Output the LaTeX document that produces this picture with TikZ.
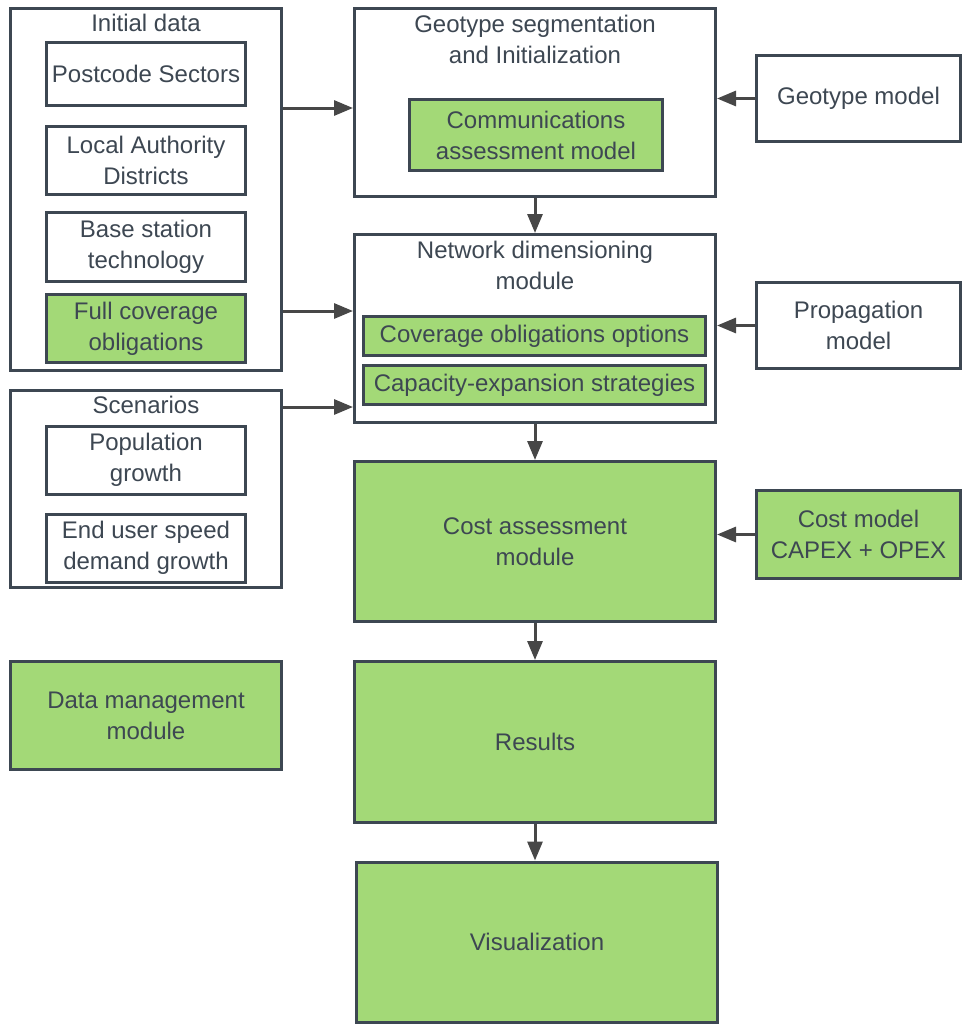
\documentclass[tikz,border=0pt]{standalone}
\usepackage{fontspec}
\setmainfont{Liberation Sans}
\usetikzlibrary{arrows.meta}

\definecolor{boxline}{HTML}{3D4752}
\definecolor{boxgreen}{HTML}{A3D977}
\definecolor{arrowgray}{HTML}{474747}

\tikzset{
	box/.style={draw=boxline, line width=3pt, fill=white, text=boxline, align=center, inner sep=0pt,
		font=\fontsize{24}{31}\selectfont},
	greenbox/.style={box, fill=boxgreen},
	title/.style={text=boxline, align=center, inner sep=0pt, font=\fontsize{24}{31}\selectfont},
	flow/.style={draw=arrowgray, line width=3pt, -{Triangle[length=19pt,width=15pt]}},
}

\begin{document}
\begin{tikzpicture}[x=1pt, y=-1pt]
	\useasboundingbox (0, 0) rectangle (966, 1036);

	% initial data
	\node[box, minimum width=271, minimum height=362] (init) at (146, 189.5) {};
	\node[title] (initt) at (146, 23) {Initial data};
	\node[box, minimum width=199, minimum height=63] (postcode) at (146, 74) {Postcode Sectors};
	\node[box, minimum width=199, minimum height=68] (lad) at (146, 160) {Local Authority\\Districts};
	\node[box, minimum width=199, minimum height=69] (bst) at (146, 247) {Base station\\technology};
	\node[greenbox, minimum width=199, minimum height=68] (fco) at (146, 328.5) {Full coverage\\obligations};

	% scenarios
	\node[box, minimum width=271, minimum height=197] (scen) at (146, 489) {};
	\node[title] (scent) at (146, 405) {Scenarios};
	\node[box, minimum width=199, minimum height=68] (popg) at (146, 460) {Population\\growth};
	\node[box, minimum width=199, minimum height=68] (speed) at (146, 548) {End user speed\\demand growth};

	% data management
	\node[greenbox, minimum width=271, minimum height=108] (dmm) at (146, 715.5) {Data management\\module};

	% geotype segmentation
	\node[box, minimum width=361, minimum height=188] (geo) at (535, 102.5) {};
	\node[title] (geot) at (535, 39) {Geotype segmentation\\and Initialization};
	\node[greenbox, minimum width=253, minimum height=71] (cam) at (536, 135) {Communications\\assessment model};

	% network dimensioning
	\node[box, minimum width=361, minimum height=188] (net) at (535, 328.5) {};
	\node[title] (nett) at (535, 265) {Network dimensioning\\module};
	\node[greenbox, minimum width=342, minimum height=39] (coo) at (534.5, 336) {Coverage obligations options};
	\node[greenbox, minimum width=342, minimum height=39] (ces) at (534.5, 385) {Capacity-expansion strategies};

	% cost, results, visualization
	\node[greenbox, minimum width=361, minimum height=160] (cost) at (535, 541.5) {Cost assessment\\module};
	\node[greenbox, minimum width=361, minimum height=161] (res) at (535, 742) {Results};
	\node[greenbox, minimum width=361, minimum height=160] (vis) at (537, 942) {Visualization};

	% models
	\node[box, minimum width=204, minimum height=86] (geom) at (858.5, 98.5) {Geotype model};
	\node[box, minimum width=204, minimum height=86] (prop) at (858.5, 325.5) {Propagation\\model};
	\node[greenbox, minimum width=204, minimum height=88] (costm) at (858.5, 534.5) {Cost model\\CAPEX + OPEX};

	% arrows
	\draw[flow] (init.east |- 0, 108) -- (geo.west |- 0, 108);
	\draw[flow] (init.east |- 0, 311) -- (net.west |- 0, 311);
	\draw[flow] (scen.east |- 0, 407) -- (net.west |- 0, 407);
	\draw[flow] (geom.west) -- (geo.east |- geom.west);
	\draw[flow] (prop.west) -- (net.east |- prop.west);
	\draw[flow] (costm.west) -- (cost.east |- costm.west);
	\draw[flow] (geo.south) -- (net.north);
	\draw[flow] (net.south) -- (cost.north);
	\draw[flow] (cost.south) -- (res.north);
	\draw[flow] (res.south) -- (res.south |- vis.north);
\end{tikzpicture}
\end{document}
